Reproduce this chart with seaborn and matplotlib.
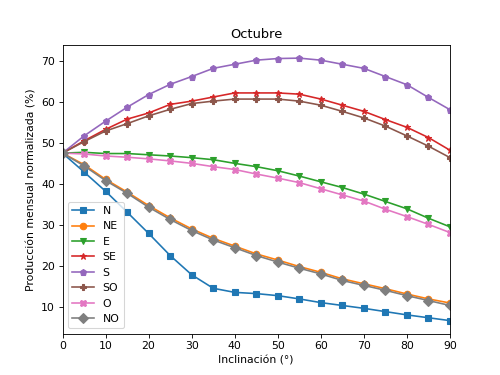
import numpy as np
import pandas as pd
import matplotlib
matplotlib.use("Agg")
import matplotlib.pyplot as plt
import seaborn as sns

# Inclinación (grados)
inclinacion = list(range(0, 95, 5))

# Producción mensual normalizada (%) por orientación, mes de octubre
prod_N = [47.6, 43.0, 38.3, 33.2, 28.0, 22.6, 17.9, 14.6, 13.6, 13.3,
          12.8, 12.0, 11.1, 10.4, 9.7, 8.9, 8.1, 7.4, 6.7]
prod_NE = [47.6, 44.8, 41.2, 38.1, 34.8, 31.8, 29.1, 26.8, 24.9, 23.0,
           21.5, 19.9, 18.5, 16.9, 15.7, 14.5, 13.2, 12.0, 11.0]
prod_E = [47.6, 47.8, 47.5, 47.5, 47.2, 46.9, 46.5, 46.0, 45.1, 44.3,
          43.3, 42.0, 40.6, 39.2, 37.6, 35.8, 34.0, 31.7, 29.6]
prod_SE = [47.6, 50.6, 53.4, 55.9, 57.4, 59.5, 60.3, 61.3, 62.3, 62.3,
           62.3, 62.0, 60.8, 59.3, 57.8, 55.8, 53.9, 51.4, 48.3]
prod_S = [47.6, 51.8, 55.4, 58.8, 61.9, 64.4, 66.3, 68.3, 69.3, 70.3,
          70.7, 70.8, 70.3, 69.3, 68.3, 66.3, 64.3, 61.2, 58.2]
prod_SO = [47.6, 50.4, 53.0, 54.8, 56.7, 58.3, 59.7, 60.3, 60.8, 60.8,
           60.8, 60.3, 59.3, 57.8, 56.2, 54.2, 51.8, 49.3, 46.5]
prod_O = [47.6, 47.4, 46.9, 46.6, 46.2, 45.7, 45.1, 44.3, 43.6, 42.5,
          41.5, 40.4, 38.9, 37.4, 35.9, 33.9, 32.1, 30.2, 28.2]
prod_NO = [47.6, 44.5, 40.9, 37.8, 34.4, 31.4, 28.7, 26.4, 24.5, 22.6,
           21.0, 19.5, 18.1, 16.5, 15.3, 14.1, 12.8, 11.6, 10.4]

orientaciones = ["N", "NE", "E", "SE", "S", "SO", "O", "NO"]
series = [prod_N, prod_NE, prod_E, prod_SE, prod_S, prod_SO, prod_O, prod_NO]
marcadores = ["s", "o", "v", "*", "p", "P", "X", "D"]

df = pd.DataFrame({
    "Inclinación": inclinacion * len(orientaciones),
    "Producción": [v for s in series for v in s],
    "Orientación": [o for o in orientaciones for _ in inclinacion],
})

fig, ax = plt.subplots(figsize=(6.4, 4.8), dpi=500 / 6.4)

colores = sns.color_palette("tab10", len(orientaciones))
sns.lineplot(data=df, x="Inclinación", y="Producción", hue="Orientación",
             style="Orientación", markers=dict(zip(orientaciones, marcadores)),
             dashes=False, palette=colores, markersize=6, linewidth=1.5, ax=ax)

# bordes de marcador del mismo color que la línea
for line in ax.lines:
    line.set_markeredgecolor(line.get_color())
    line.set_markeredgewidth(1.0)

ax.set_xlim(0, 90)
ax.set_title("Octubre")
ax.set_xlabel("Inclinación (°)")
ax.set_ylabel("Producción mensual normalizada (%)")

leg = ax.legend(loc="lower left")
for h in leg.legend_handles:
    h.set_markeredgecolor(h.get_color())

plt.savefig("out.png", dpi=500 / 6.4)
